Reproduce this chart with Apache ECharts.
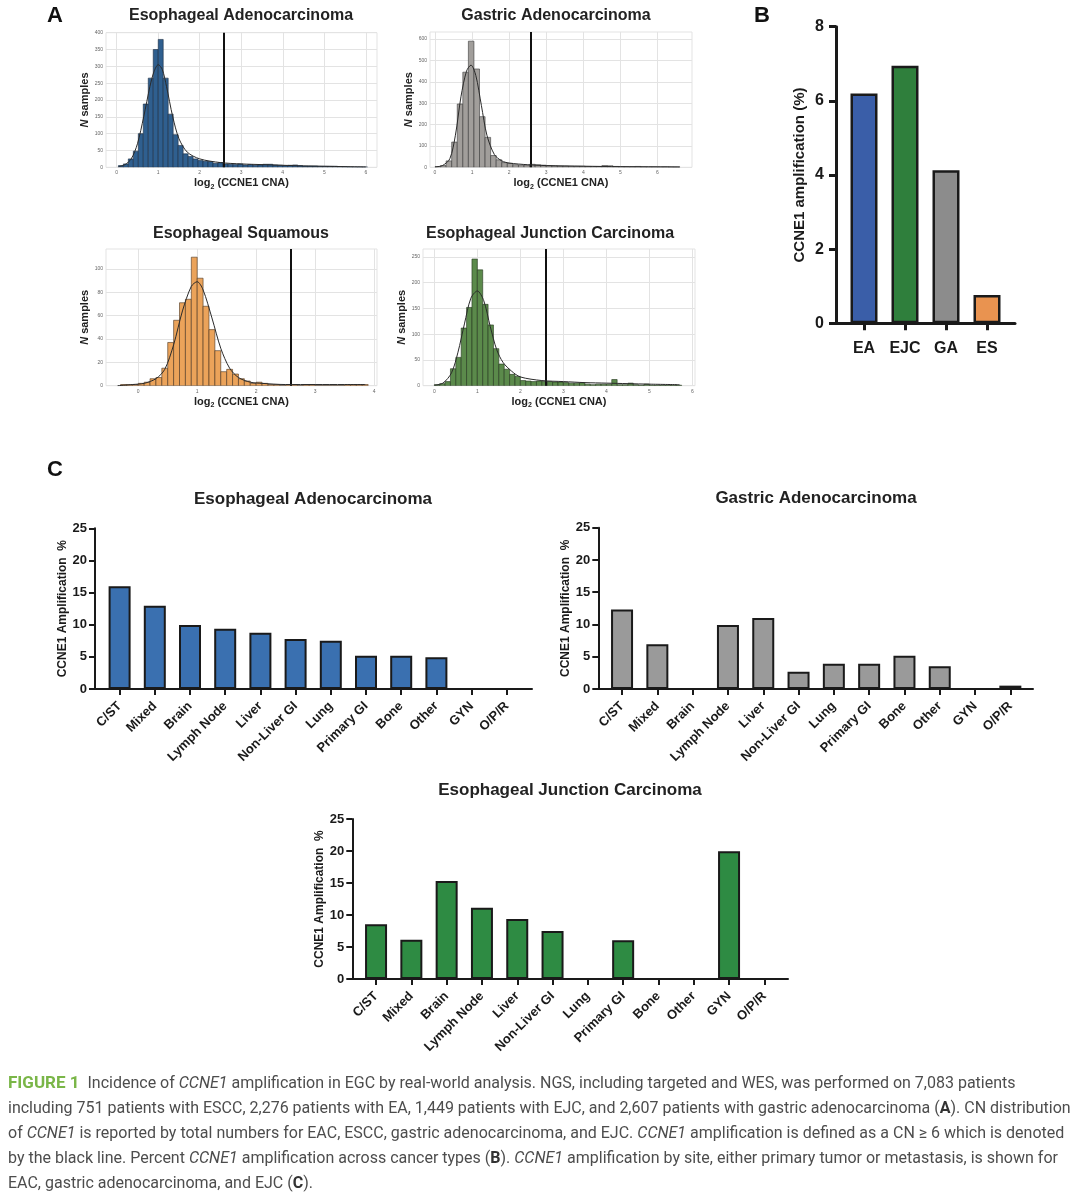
<!DOCTYPE html>
<html><head><meta charset="utf-8">
<script src="https://cdn.jsdelivr.net/npm/echarts@6/dist/echarts.min.js"></script>
<style>html,body{margin:0;padding:0;background:#fff}#chart{width:1080px;height:1198px}</style>
</head><body><div id="chart"></div>
<script>
// ---------- DATA ----------
const THRESHOLD_LOG2 = 2.585; // log2(6): amplification cut-off (black line)

// Panel A histograms (bin start, bin width, counts per bin)
const eacBinStart = 0.04, eacBinWidth = 0.12;
const eacCounts = [5,10,25,48,100,188,265,350,380,265,158,97,65,40,32,25,20,18,17,12,14,10,9,8,10,7,8,6,7,9,9,7,6,5,6,7,5,4,4,4,3,3,3,3,2,2,1,1,1,1];
const eacCurveX = [0.05,0.2,0.35,0.5,0.65,0.8,0.9,1.0,1.1,1.2,1.35,1.5,1.7,2.0,2.5,3.0,3.5,4.0,4.5,5.0,5.5,6.0];
const eacCurveY = [2,8,25,70,150,240,285,305,290,240,150,85,45,25,14,10,8,6,4,3,2,1];
const eacXTicks = [0,1,2,3,4,5,6];
const eacYTicks = [0,50,100,150,200,250,300,350,400];

const gaBinStart = 0.0, gaBinWidth = 0.15;
const gaCounts = [3,8,30,118,296,445,590,460,237,140,55,35,22,18,12,10,10,14,12,10,8,7,6,6,5,5,5,4,4,4,8,7,4,3,3,3,4,2,2,2,2,3,2,2];
const gaCurveX = [0,0.2,0.4,0.55,0.7,0.85,0.97,1.1,1.25,1.4,1.6,1.8,2.0,2.5,3.0,4.0,5.0,6.0,6.6];
const gaCurveY = [2,8,40,150,330,450,478,430,290,150,60,30,20,12,8,5,3,2,1];
const gaXTicks = [0,1,2,3,4,5,6];
const gaYTicks = [0,100,200,300,400,500,600];

const esBinStart = -0.3, esBinWidth = 0.1;
const esCounts = [1,1,1,2,3,6,7,15,37,56,71,74,110,92,68,48,30,12,14,10,6,4,2,3,2,1,1,0,1,1,0,1,1,0,0,0,0,0,1,1,1,1];
const esCurveX = [-0.35,-0.1,0.1,0.3,0.45,0.6,0.75,0.9,1.0,1.1,1.25,1.4,1.55,1.7,1.9,2.1,2.5,3.0,3.5,3.85];
const esCurveY = [0,1,2,6,14,35,64,85,89,82,58,32,15,7,3,2,1,1,1,1];
const esXTicks = [0,1,2,3,4];
const esYTicks = [0,20,40,60,80,100];

const ejcBinStart = 0.0, ejcBinWidth = 0.125;
const ejcCounts = [2,4,8,33,55,112,152,246,225,158,118,72,42,32,22,18,10,9,8,9,8,8,7,7,6,5,5,6,3,2,3,3,3,12,2,2,5,2,1,3,1,1,1,1,1,1];
const ejcCurveX = [0,0.2,0.4,0.55,0.7,0.85,1.0,1.15,1.3,1.45,1.6,1.8,2.0,2.5,3.0,3.5,4.0,4.5,5.0,5.7];
const ejcCurveY = [1,5,25,65,120,170,184,165,115,70,45,28,17,10,8,6,5,4,3,2];
const ejcXTicks = [0,1,2,3,4,5,6];
const ejcYTicks = [0,50,100,150,200,250];

// Panel B
const typeCategories = ['EA','EJC','GA','ES'];
const typeAmplification = [6.2, 6.95, 4.13, 0.76];

// Panel C
const siteCategories = ['C/ST','Mixed','Brain','Lymph Node','Liver','Non-Liver GI','Lung','Primary GI','Bone','Other','GYN','O/P/R'];
const eacSiteValues = [16.0,12.97,9.96,9.39,8.77,7.78,7.52,5.19,5.19,4.93,0,0];
const gaSiteValues  = [12.34,6.92,0,9.92,11.0,2.69,3.93,3.93,5.17,3.51,0,0.52];
const ejcSiteValues = [8.54,6.15,15.31,11.15,9.37,7.5,0,6.04,0,0,19.95,0];

// ---------- BUILD ----------
const FONT = '"Liberation Sans", Arial, Helvetica, sans-serif';
const CAPFONT = 'Roboto, "Liberation Sans", sans-serif';
const grid = [], xAxis = [], yAxis = [], series = [], graphic = [];

function addGridPair(g, xa, ya) {
  grid.push(g);
  const gi = grid.length - 1;
  xa.gridIndex = gi; ya.gridIndex = gi;
  xAxis.push(xa); yAxis.push(ya);
  return gi;
}

function addHist(h) {
  const split = {show: true, lineStyle: {color: '#e3e3e3', width: 1}};
  const gi = addGridPair(
    {left: h.left, top: h.top, width: h.right - h.left, height: h.bottom - h.top, show: true, borderColor: '#e3e3e3', borderWidth: 1, backgroundColor: '#fff'},
    {type: 'value', min: h.xmin, max: h.xmax, axisLine: {show: false},
     axisTick: {show: false, customValues: h.xticks},
     axisLabel: {customValues: h.xticks, fontSize: 5, color: '#666', margin: 3, fontFamily: FONT},
     splitLine: split,
     name: '{a|log}{s|2}{a| (CCNE1 CNA)}', nameLocation: 'middle', nameGap: 9,
     nameTextStyle: {rich: {
       a: {fontSize: 11, fontWeight: 'bold', fontFamily: FONT, color: '#222', lineHeight: 14},
       s: {fontSize: 7, fontWeight: 'bold', fontFamily: FONT, color: '#222', lineHeight: 8, verticalAlign: 'bottom'}}}},
    {type: 'value', min: 0, max: h.ymax, axisLine: {show: false},
     axisTick: {show: false, customValues: h.yticks},
     axisLabel: {customValues: h.yticks, fontSize: 5, color: '#666', margin: 3, fontFamily: FONT},
     splitLine: split,
     name: '{i|N}{b| samples}', nameLocation: 'middle', nameGap: 15,
     nameTextStyle: {rich: {
       i: {fontSize: 11, fontWeight: 'bold', fontStyle: 'italic', fontFamily: FONT, color: '#222'},
       b: {fontSize: 11, fontWeight: 'bold', fontFamily: FONT, color: '#222'}}}}
  );
  const bins = h.counts.map((c, i) => [h.binStart + i * h.binWidth, h.binStart + (i + 1) * h.binWidth, c]);
  series.push({
    type: 'custom', xAxisIndex: gi, yAxisIndex: gi, data: bins, encode: {x: [0, 1], y: 2}, clip: true,
    renderItem: (params, api) => {
      const p0 = api.coord([api.value(0), api.value(2)]);
      const p1 = api.coord([api.value(1), 0]);
      return {type: 'rect', shape: {x: p0[0], y: p0[1], width: p1[0] - p0[0], height: p1[1] - p0[1]},
              style: {fill: h.color, stroke: h.edge, lineWidth: 0.6}};
    }
  });
  series.push({
    type: 'line', xAxisIndex: gi, yAxisIndex: gi, data: h.curveX.map((x, i) => [x, h.curveY[i]]),
    smooth: 0.3, symbol: 'none', lineStyle: {color: '#2a2a2a', width: 1}, z: 5,
    markLine: {silent: true, symbol: ['none', 'none'], label: {show: false},
      lineStyle: {color: '#111', width: 2, type: 'solid'}, data: [{xAxis: THRESHOLD_LOG2}]}
  });
}

addHist({left: 106, right: 377, top: 32.7, bottom: 167.3, xmin: -0.258, xmax: 6.27, ymax: 400,
  xticks: eacXTicks, yticks: eacYTicks, binStart: eacBinStart, binWidth: eacBinWidth, counts: eacCounts,
  curveX: eacCurveX, curveY: eacCurveY, color: '#2f5f8f', edge: '#1b2c40'});
addHist({left: 430, right: 692, top: 32, bottom: 167.3, xmin: -0.135, xmax: 6.93, ymax: 633,
  xticks: gaXTicks, yticks: gaYTicks, binStart: gaBinStart, binWidth: gaBinWidth, counts: gaCounts,
  curveX: gaCurveX, curveY: gaCurveY, color: '#a19e9b', edge: '#3a3a3a'});
addHist({left: 106, right: 377, top: 249, bottom: 385.7, xmin: -0.547, xmax: 4.05, ymax: 117,
  xticks: esXTicks, yticks: esYTicks, binStart: esBinStart, binWidth: esBinWidth, counts: esCounts,
  curveX: esCurveX, curveY: esCurveY, color: '#eba35a', edge: '#4a3420'});
addHist({left: 423, right: 695, top: 249, bottom: 385.7, xmin: -0.263, xmax: 6.06, ymax: 265.5,
  xticks: ejcXTicks, yticks: ejcYTicks, binStart: ejcBinStart, binWidth: ejcBinWidth, counts: ejcCounts,
  curveX: ejcCurveX, curveY: ejcCurveY, color: '#5b8a4b', edge: '#23361d'});

function addBarPanel(p) {
  const ls = {color: '#1a1a1a', width: p.lw};
  addGridPair({left: p.axisX, top: p.top, width: p.axisEnd - p.axisX, height: p.bottom - p.top},
    {type: 'value', min: 0, max: 1, axisLine: {show: true, lineStyle: ls}, axisTick: {show: false}, axisLabel: {show: false}, splitLine: {show: false}},
    {type: 'value', show: false, min: 0, max: 1});
  const gi = addGridPair({left: p.bandStart, top: p.top, width: p.bandWidth, height: p.bottom - p.top},
    {type: 'category', data: p.categories, axisLine: {show: false},
     axisTick: {show: true, alignWithLabel: true, length: p.tickLen, lineStyle: ls},
     axisLabel: {interval: 0, rotate: p.rotate, fontSize: p.xFont, fontWeight: 'bold', color: '#1a1a1a', margin: p.xMargin, fontFamily: FONT}},
    {type: 'value', min: 0, max: p.ymax, interval: p.yInterval, offset: p.bandStart - p.axisX,
     axisLine: {show: true, lineStyle: ls}, axisTick: {show: true, length: p.tickLen, lineStyle: ls},
     axisLabel: {fontSize: p.yFont, fontWeight: 'bold', color: '#1a1a1a', margin: p.yMargin, fontFamily: FONT},
     splitLine: {show: false},
     name: p.yName, nameLocation: 'middle', nameGap: p.nameGap,
     nameTextStyle: {fontSize: p.nameFont, fontWeight: 'bold', color: '#1a1a1a', fontFamily: FONT}});
  series.push({type: 'bar', xAxisIndex: gi, yAxisIndex: gi, barWidth: p.barWidth,
    data: p.values.map((v, i) => ({value: v, itemStyle: {color: p.colors ? p.colors[i] : p.color}})),
    itemStyle: {borderColor: '#1a1a1a', borderWidth: p.bw}});
}

// Panel B
addBarPanel({axisX: 836, axisEnd: 1015, bandStart: 843.5, bandWidth: 164, top: 26.7, bottom: 323.3,
  categories: typeCategories, values: typeAmplification, colors: ['#3a5ea8', '#2f7f3c', '#8c8c8c', '#e99350'],
  ymax: 8, yInterval: 2, lw: 3, bw: 2.5, tickLen: 7, barWidth: 27, rotate: 0, xFont: 16, xMargin: 17,
  yFont: 16, yMargin: 12, yName: 'CCNE1 amplification (%)', nameGap: 29, nameFont: 15});

// Panel C
const cCommon = {categories: siteCategories, ymax: 25, yInterval: 5, lw: 2, bw: 2, tickLen: 6, barWidth: 22,
  rotate: 45, xFont: 13, xMargin: 15, yFont: 13, yMargin: 8, yName: 'CCNE1 Amplification  %', nameGap: 26, nameFont: 12};
addBarPanel(Object.assign({}, cCommon, {axisX: 95, axisEnd: 532, bandStart: 102, bandWidth: 422.4, top: 528.3, bottom: 689,
  values: eacSiteValues, color: '#3a70b0'}));
addBarPanel(Object.assign({}, cCommon, {axisX: 598.3, axisEnd: 1033, bandStart: 604.4, bandWidth: 423.6, top: 527.7, bottom: 689,
  values: gaSiteValues, color: '#9a9a9a'}));
addBarPanel(Object.assign({}, cCommon, {axisX: 352.3, axisEnd: 788, bandStart: 358.4, bandWidth: 423.6, top: 819, bottom: 979,
  values: ejcSiteValues, color: '#2e8b43'}));

// Titles & panel letters
function addText(text, x, y, size, extra) {
  graphic.push({type: 'text', x: x, y: y, silent: true,
    style: Object.assign({text: text, fill: '#222', fontSize: size, fontWeight: 'bold', fontFamily: FONT,
      align: 'center', verticalAlign: 'middle', textAlign: 'center', textVerticalAlign: 'middle'}, extra || {})});
}
addText('Esophageal Adenocarcinoma', 241, 16, 16);
addText('Gastric Adenocarcinoma', 556, 16, 16);
addText('Esophageal Squamous', 241, 234, 16);
addText('Esophageal Junction Carcinoma', 550, 234, 16);
addText('Esophageal Adenocarcinoma', 313, 499, 17);
addText('Gastric Adenocarcinoma', 816, 498, 17);
addText('Esophageal Junction Carcinoma', 570, 790, 17);
addText('A', 55, 16, 22, {fill: '#111'});
addText('B', 762, 16, 22, {fill: '#111'});
addText('C', 55, 470, 22, {fill: '#111'});

// Caption
const capRich = {
  n: {fontSize: 16, fontFamily: CAPFONT, fill: '#4d4d4d'},
  i: {fontSize: 16, fontFamily: CAPFONT, fill: '#4d4d4d', fontStyle: 'italic'},
  b: {fontSize: 16, fontFamily: CAPFONT, fill: '#333', fontWeight: 'bold'},
  g: {fontSize: 17, fontFamily: CAPFONT, fill: '#7ab648', fontWeight: 'bold'}
};
const captionLines = [
  '{g|FIGURE 1}{n|  Incidence of }{i|CCNE1}{n| amplification in EGC by real-world analysis. NGS, including targeted and WES, was performed on 7,083 patients}',
  '{n|including 751 patients with ESCC, 2,276 patients with EA, 1,449 patients with EJC, and 2,607 patients with gastric adenocarcinoma (}{b|A}{n|). CN distribution}',
  '{n|of }{i|CCNE1}{n| is reported by total numbers for EAC, ESCC, gastric adenocarcinoma, and EJC. }{i|CCNE1}{n| amplification is defined as a CN ≥ 6 which is denoted}',
  '{n|by the black line. Percent }{i|CCNE1}{n| amplification across cancer types (}{b|B}{n|). }{i|CCNE1}{n| amplification by site, either primary tumor or metastasis, is shown for}',
  '{n|EAC, gastric adenocarcinoma, and EJC (}{b|C}{n|).}'
];
const captionY = [1084, 1109, 1134, 1159, 1184];
// condense caption horizontally so the longest line spans the page like the reference
const mctx = document.createElement('canvas').getContext('2d');
function richWidth(line) {
  let w = 0; const re = /\{(\w)\|([^}]*)\}/g; let m;
  while ((m = re.exec(line))) {
    const s = capRich[m[1]];
    mctx.font = (s.fontStyle || 'normal') + ' ' + (s.fontWeight || 'normal') + ' ' + s.fontSize + 'px ' + s.fontFamily;
    w += mctx.measureText(m[2]).width;
  }
  return w;
}
const capScale = Math.min(1, 1066 / richWidth(captionLines[1]));
captionLines.forEach((t, k) => {
  graphic.push({type: 'text', x: 8, y: captionY[k], scaleX: capScale, silent: true,
    style: {text: t, rich: capRich, align: 'left', verticalAlign: 'middle', textAlign: 'left', textVerticalAlign: 'middle'}});
});

const chart = echarts.init(document.getElementById('chart'), null, {renderer: 'canvas'});
chart.setOption({animation: false, backgroundColor: '#fff', grid, xAxis, yAxis, series, graphic});
</script></body></html>
